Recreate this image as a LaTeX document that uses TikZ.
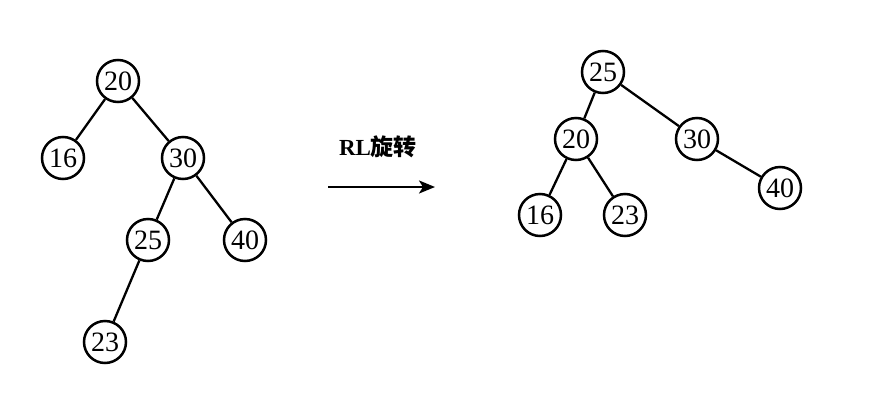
\documentclass[tikz,border=0pt]{standalone}
\usepackage{fontspec}
\setmainfont{Liberation Serif}
\newfontfamily\cjk{Noto Sans CJK SC}
\usetikzlibrary{arrows.meta}
\begin{document}
\begin{tikzpicture}[x=1pt,y=-1pt,
  tnode/.style={circle,draw,line width=2.5pt,minimum size=42pt,inner sep=0pt,font=\fontsize{28}{28}\selectfont},
  edge/.style={line width=2.3pt}]
\useasboundingbox (0,0) rectangle (887,405);
% left tree
\node[tnode] (a20) at (118,81) {20};
\node[tnode] (a16) at (63,158) {16};
\node[tnode] (a30) at (183,158) {30};
\node[tnode] (a25) at (148,240) {25};
\node[tnode] (a40) at (245,240) {40};
\node[tnode] (a23) at (105,342) {23};
\draw[edge] (a20) -- (a16);
\draw[edge] (a20) -- (a30);
\draw[edge] (a30) -- (a25);
\draw[edge] (a30) -- (a40);
\draw[edge] (a25) -- (a23);
% arrow
\coordinate (s) at (328,187);
\coordinate (e) at (435,187);
\draw[line width=2.3pt,-{Stealth[length=16pt,width=13pt,inset=4pt]}] (s) -- (e);
\node (lab) at (378,147) {\fontsize{23}{23}\selectfont\bfseries RL\cjk\bfseries 旋转};
% right tree
\node[tnode] (b25) at (603,72) {25};
\node[tnode] (b20) at (576,139) {20};
\node[tnode] (b30) at (697,139) {30};
\node[tnode] (b16) at (540,215) {16};
\node[tnode] (b23) at (625,215) {23};
\node[tnode] (b40) at (780,188) {40};
\draw[edge] (b25) -- (b20);
\draw[edge] (b25) -- (b30);
\draw[edge] (b20) -- (b16);
\draw[edge] (b20) -- (b23);
\draw[edge] (b30) -- (b40);
\end{tikzpicture}
\end{document}
